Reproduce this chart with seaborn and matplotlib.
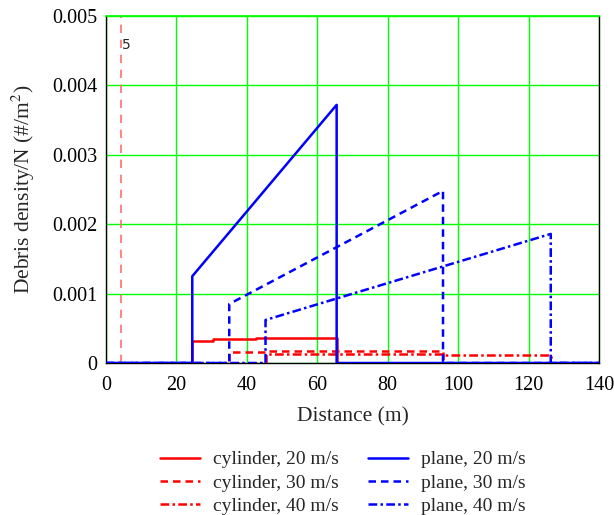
import matplotlib
matplotlib.use("Agg")
import matplotlib.pyplot as plt
import seaborn as sns
import pandas as pd

# ---- data ----
plane20_x = [0, 24.5, 24.5, 65.5, 65.5, 140]
plane20_y = [0, 0, 0.00125, 0.00372, 0, 0]
plane30_x = [0, 35.0, 35.0, 95.7, 95.7, 140]
plane30_y = [0, 0, 0.00085, 0.00248, 0, 0]
plane40_x = [0, 45.3, 45.3, 126.3, 126.3, 140]
plane40_y = [0, 0, 0.00062, 0.00186, 0, 0]

cyl20_x = [0, 24.5, 24.5, 30.5, 30.5, 42.5, 42.5, 65.5, 65.5]
cyl20_y = [0, 0, 0.00032, 0.00032, 0.00034, 0.00034, 0.00036, 0.00036, 0]
cyl30_x = [0, 35.0, 35.0, 45.3, 45.3, 95.7, 95.7]
cyl30_y = [0, 0, 0.00016, 0.00016, 0.00018, 0.00018, 0]
cyl40_x = [0, 45.3, 45.3, 95.7, 95.7, 126.3, 126.3]
cyl40_y = [0, 0, 0.000125, 0.000125, 0.00011, 0.00011, 0]

marker_x = 4.3
marker_label = "5"

x_ticks = [0, 20, 40, 60, 80, 100, 120, 140]
y_ticks = [0, 0.001, 0.002, 0.003, 0.004, 0.005]
y_tick_labels = ["0", "0.001", "0.002", "0.003", "0.004", "0.005"]

series = [
    ("cylinder, 20 m/s", cyl20_x, cyl20_y, "#ff0000", "-"),
    ("cylinder, 30 m/s", cyl30_x, cyl30_y, "#ff0000", (0, (3, 2))),
    ("cylinder, 40 m/s", cyl40_x, cyl40_y, "#ff0000", (0, (3.5, 1.3, 1, 1.3))),
    ("plane, 20 m/s", plane20_x, plane20_y, "#0000ff", "-"),
    ("plane, 30 m/s", plane30_x, plane30_y, "#0000ff", (0, (3, 2))),
    ("plane, 40 m/s", plane40_x, plane40_y, "#0000ff", (0, (3.5, 1.3, 1, 1.3))),
]

sns.set_theme(style="white")
plt.rcParams["font.family"] = ["Liberation Serif", "DejaVu Serif"]
plt.rcParams["mathtext.fontset"] = "stix"

fig = plt.figure(figsize=(6.14, 5.15), dpi=100)
ax = fig.add_axes([106 / 614, 1 - 363 / 515, 493 / 614, 347 / 515])

ax.axvline(marker_x, color="#ff7070", lw=1.2, ls=(0, (5, 4)), zorder=1)
ax.text(4.6, 0.00458, marker_label, fontsize=10, family="DejaVu Sans", va="center", ha="left")

handles = []
for name, xs, ys, col, ls in series:
    df = pd.DataFrame({"x": xs, "y": ys})
    sns.lineplot(data=df, x="x", y="y", sort=False, estimator=None, ax=ax,
                 color=col, linewidth=1.8, linestyle=ls, zorder=3, legend=False)
    handles.append(ax.lines[-1])

ax.set_xlim(0, 140)
ax.set_ylim(0, 0.005)
ax.set_xticks(x_ticks)
ax.set_yticks(y_ticks)
ax.set_yticklabels(y_tick_labels)
ax.tick_params(axis="both", length=0, labelsize=14.5, colors="black")
ax.tick_params(axis="x", pad=9.5)
ax.tick_params(axis="y", pad=6)
ax.grid(True, color="#00ff00", linewidth=1)
ax.set_axisbelow(True)
for s in ["left", "right", "bottom"]:
    ax.spines[s].set_color("black")
    ax.spines[s].set_linewidth(1)
ax.spines["top"].set_color("#00ff00")
ax.set_xlabel("Distance (m)", fontsize=15.5, labelpad=9)
ax.set_ylabel(r"Debris density/N (#/m$^2$)", fontsize=15.5, labelpad=11)

fig.legend(handles=handles, labels=[s[0] for s in series], ncol=2, frameon=False,
           loc="upper left", bbox_to_anchor=(150 / 614, 1 - 441 / 515),
           fontsize=14, handlelength=2.05, handletextpad=0.67, columnspacing=1.5,
           labelspacing=0.3, borderpad=0)

fig.savefig("out.png", dpi=100)
